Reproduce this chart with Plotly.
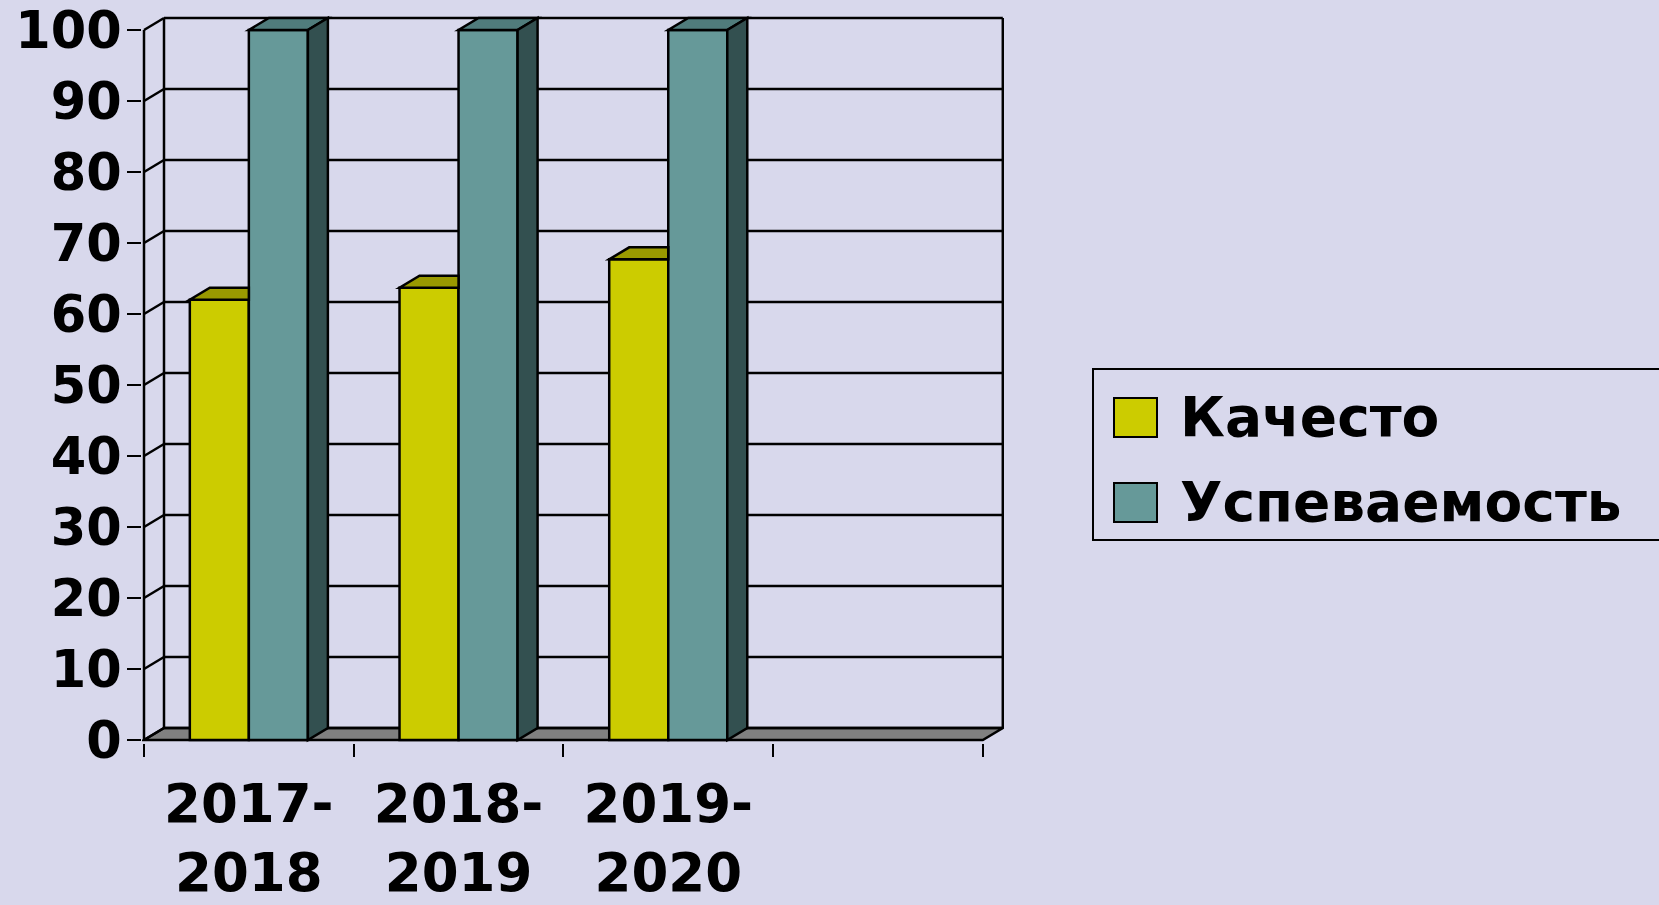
import plotly.graph_objects as go

# ---- data ----
categories = ["2017-<br>2018", "2018-<br>2019", "2019-<br>2020", " "]
series_names = ["Качесто", "Успеваемость"]
kachestvo = [62, 63.7, 67.7, None]
uspevaemost = [100, 100, 100, None]
y_ticks = [0, 10, 20, 30, 40, 50, 60, 70, 80, 90, 100]

# ---- styling / geometry ----
W, H = 1659, 905
BG = "#D8D8EC"
FRONT = ["#CCCC00", "#669999"]
TOP = ["#999900", "#507C7C"]
SIDE = ["#7A7A00", "#335050"]
FLOOR = "#808080"
FONT = "DejaVu Sans"
LW = 2.5

L, R, T, B = 142, 1004, 15, 743          # plot area in px
X0PX, Y0PX = 144, 740                    # front-left corner (x=-0.5, y=0)
PX_CAT, PX_UNIT = 209.7, 7.1
xr = [-0.5 - (X0PX - L) / PX_CAT, -0.5 + (R - X0PX) / PX_CAT]
yr = [-(B - Y0PX) / PX_UNIT, (Y0PX - T) / PX_UNIT]
DX = 20 / PX_CAT                         # depth offset in data units
DY = 12 / PX_UNIT
BARGAP = 0.437
BW = (1 - BARGAP) / 2
ncat = len(categories)

def px2paper(px, py):
    return (px - L) / (R - L), (B - py) / (B - T)

fig = go.Figure()
for name, vals, col in zip(series_names, [kachestvo, uspevaemost], FRONT):
    fig.add_trace(go.Bar(x=categories, y=vals, name=name, marker_color=col,
                         marker_line=dict(color="black", width=LW), showlegend=False,
                         hoverinfo="skip"))

shapes = []
blk = dict(color="black", width=LW)
xl, xrgt = -0.5, ncat - 0.5
# floor
shapes.append(dict(type="path", layer="below", fillcolor=FLOOR, line=blk,
                   path=f"M{xl},0 L{xrgt},0 L{xrgt+DX},{DY} L{xl+DX},{DY} Z"))
# back wall gridlines + side wall diagonals
for v in y_ticks:
    shapes.append(dict(type="line", layer="below", line=blk,
                       x0=xl + DX, x1=xrgt + DX, y0=v + DY, y1=v + DY))
    shapes.append(dict(type="line", layer="below", line=blk,
                       x0=xl, x1=xl + DX, y0=v, y1=v + DY))
# back wall verticals
for xx in [xl + DX, xrgt + DX]:
    shapes.append(dict(type="line", layer="below", line=blk,
                       x0=xx, x1=xx, y0=DY, y1=y_ticks[-1] + DY))
# front axis line
shapes.append(dict(type="line", layer="below", line=blk,
                   x0=xl, x1=xl, y0=0, y1=y_ticks[-1]))

# 3D faces of bars
for i in range(ncat):
    a, b = kachestvo[i], uspevaemost[i]
    xa0, xa1, xb1 = i - BW, i, i + BW
    if a is not None:
        shapes.append(dict(type="path", layer="above", fillcolor=TOP[0], line=blk,
                           path=f"M{xa0},{a} L{xa1},{a} L{xa1},{a+DY} L{xa0+DX},{a+DY} Z"))
    if b is not None:
        shapes.append(dict(type="path", layer="above", fillcolor=TOP[1], line=blk,
                           path=f"M{xa1},{b} L{xb1},{b} L{xb1+DX},{b+DY} L{xa1+DX},{b+DY} Z"))
        shapes.append(dict(type="path", layer="above", fillcolor=SIDE[1], line=blk,
                           path=f"M{xb1},0 L{xb1},{b} L{xb1+DX},{b+DY} L{xb1+DX},{DY} Z"))

# manual legend (large swatches)
annotations = []
bx0, by0 = px2paper(1093, 369)
bx1, by1 = px2paper(1668, 540)
shapes.append(dict(type="rect", xref="paper", yref="paper", x0=bx0, x1=bx1, y0=by0, y1=by1,
                   line=dict(color="black", width=2), fillcolor="rgba(0,0,0,0)"))
for k, (name, col) in enumerate(zip(series_names, FRONT)):
    top = 398 + k * 85
    sx0, sy0 = px2paper(1114, top)
    sx1, sy1 = px2paper(1157, top + 39)
    shapes.append(dict(type="rect", xref="paper", yref="paper", x0=sx0, x1=sx1, y0=sy0, y1=sy1,
                       fillcolor=col, line=dict(color="black", width=2)))
    tx, ty = px2paper(1178, top + 19)
    annotations.append(dict(xref="paper", yref="paper", x=tx, y=ty, xanchor="left", yanchor="middle",
                            text=name, showarrow=False,
                            font=dict(family=FONT, size=55, color="black", weight="bold")))

fig.update_layout(
    width=W, height=H, paper_bgcolor=BG, plot_bgcolor=BG,
    margin=dict(l=L, r=W - R, t=T, b=H - B, pad=0, autoexpand=False),
    barmode="group", bargap=BARGAP, bargroupgap=0,
    shapes=shapes, annotations=annotations, showlegend=False,
    font=dict(family=FONT, size=51, color="black", weight="bold"),
)
fig.update_xaxes(type="category", categoryorder="array", categoryarray=categories,
                 range=xr, showgrid=False, zeroline=False, showline=False, automargin=False,
                 ticks="outside", tickson="boundaries", ticklen=13, tickwidth=2, tickcolor="black",
                 ticklabelstandoff=25,
                 tickfont=dict(family=FONT, size=53, color="black", weight="bold"))
fig.update_yaxes(range=yr, tickvals=y_ticks, showgrid=False, zeroline=False, showline=False,
                 automargin=False,
                 ticks="outside", ticklen=14, tickwidth=2, tickcolor="black",
                 ticklabelstandoff=-5,
                 tickfont=dict(family=FONT, size=51, color="black", weight="bold"))

fig.write_html("out.html", config={"displayModeBar": False, "staticPlot": True},
               post_script="document.body.style.margin='0';document.body.style.overflow='hidden';"
                           "document.body.style.background='" + BG + "';")
